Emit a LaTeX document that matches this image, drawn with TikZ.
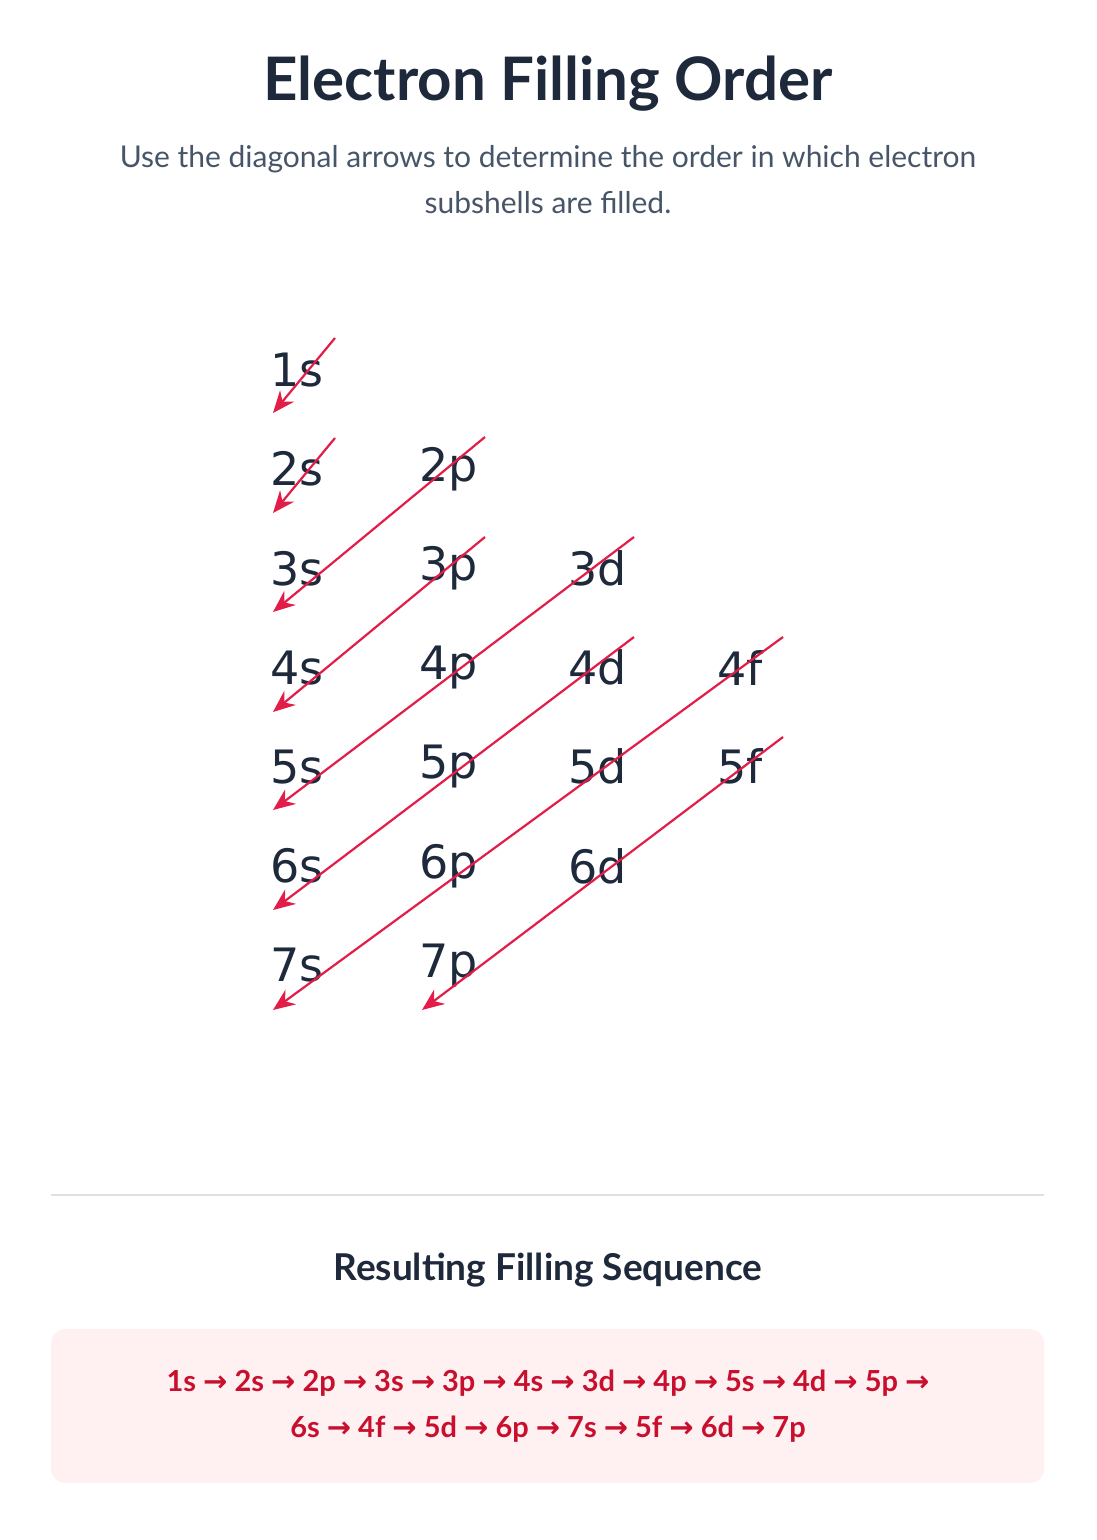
\documentclass[tikz,border=0pt]{standalone}
\usepackage{fontspec}
\setmainfont{Lato}
\newfontfamily\gridfont{DejaVu Sans}
\newfontfamily\arrfont{DejaVu Sans}
\usetikzlibrary{arrows.meta}
\definecolor{ttl}{HTML}{1E293B}
\definecolor{sub}{HTML}{475569}
\definecolor{arr}{HTML}{E11D48}
\definecolor{boxbg}{HTML}{FFF1F2}
\definecolor{seq}{HTML}{C8102E}
\begin{document}
\begin{tikzpicture}[x=1pt,y=-1pt,
 lbl/.style={anchor=west,font=\gridfont\fontsize{46}{50}\selectfont,text=ttl,inner sep=0},
 diag/.style={draw=arr,line width=2.2pt,-{Stealth[length=22pt,width=18pt]}}]
\useasboundingbox (0,0) rectangle (1096,1540);
\node[font=\bfseries\fontsize{60}{66}\selectfont,text=ttl] (title) at (548,84) {Electron Filling Order};
\node[font=\fontsize{30}{46}\selectfont,text=sub,align=center] (subt) at (548,180) {Use the diagonal arrows to determine the order in which electron\\subshells are filled.};
% grid
\foreach \n/\c/\r in {1s/0/0,2s/0/1,2p/1/1,3s/0/2,3p/1/2,3d/2/2,4s/0/3,4p/1/3,4d/2/3,4f/3/3,5s/0/4,5p/1/4,5d/2/4,5f/3/4,6s/0/5,6p/1/5,6d/2/5,7s/0/6,7p/1/6}
  \node[lbl] (n\n) at ({270+149*\c},{370+99.2*\r}) {\n};
\coordinate (a1) at (335,338); \coordinate (b1) at (273,413);
\coordinate (a2) at (335,438); \coordinate (b2) at (273,513);
\coordinate (a3) at (485,437); \coordinate (b3) at (273,612);
\coordinate (a4) at (485,537); \coordinate (b4) at (273,712);
\coordinate (a5) at (634,537); \coordinate (b5) at (273,810);
\coordinate (a6) at (634,637); \coordinate (b6) at (273,910);
\coordinate (a7) at (783,637); \coordinate (b7) at (273,1010);
\coordinate (a8) at (783,737); \coordinate (b8) at (422,1010);
\foreach \i in {1,...,8} \draw[diag] (a\i) -- (b\i);
\coordinate (d1) at (51,1195); \coordinate (d2) at (1044,1195);
\draw[draw=black!12,line width=1.2pt] (d1) -- (d2);
\node[font=\bfseries\fontsize{37}{42}\selectfont,text=ttl] (rtitle) at (548,1270) {Resulting Filling Sequence};
\fill[boxbg,rounded corners=14pt] (51,1329) rectangle (1044,1483);
\node[font=\bfseries\fontsize{29}{46}\selectfont,text=seq,align=center] (seqt) at (548,1406) {1s {\arrfont→} 2s {\arrfont→} 2p {\arrfont→} 3s {\arrfont→} 3p {\arrfont→} 4s {\arrfont→} 3d {\arrfont→} 4p {\arrfont→} 5s {\arrfont→} 4d {\arrfont→} 5p {\arrfont→}\\6s {\arrfont→} 4f {\arrfont→} 5d {\arrfont→} 6p {\arrfont→} 7s {\arrfont→} 5f {\arrfont→} 6d {\arrfont→} 7p};
\end{tikzpicture}
\end{document}
